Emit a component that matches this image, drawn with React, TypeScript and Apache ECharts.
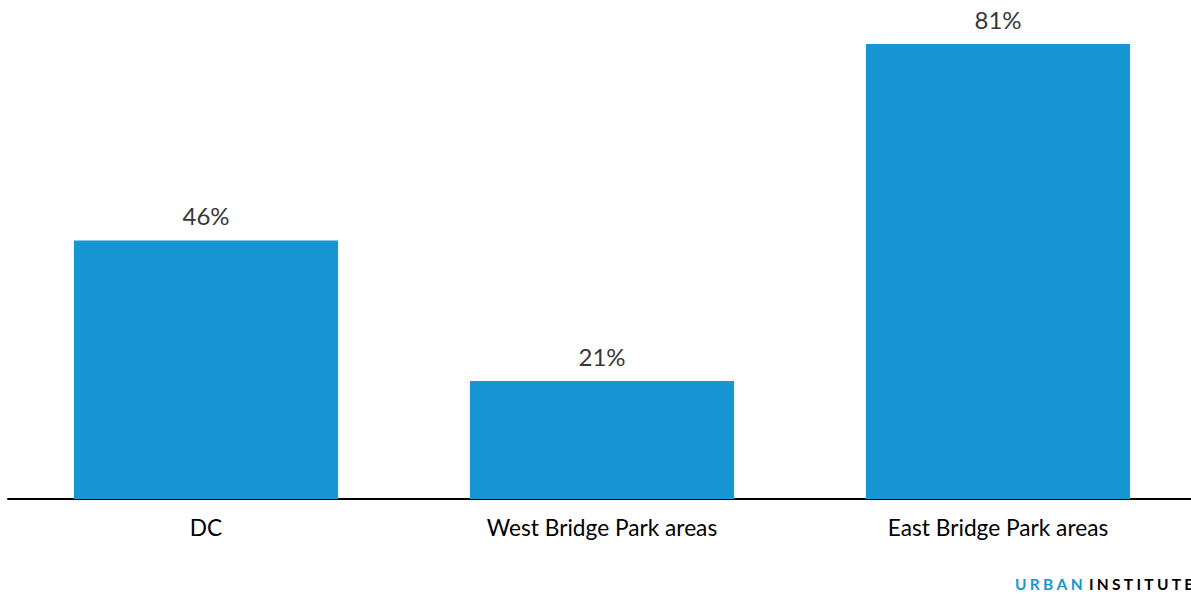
import React, { useEffect, useRef } from "react";
import * as echarts from "echarts";

const categories = ["DC", "West Bridge Park areas", "East Bridge Park areas"];
const values = [46, 21, 81];
const yMax = 81;
const logoParts = [
  { text: "URBAN", color: "#1696d2" },
  { text: "INSTITUTE", color: "#000000" },
];

function buildLogo(x0: number, y0: number) {
  const ctx = document.createElement("canvas").getContext("2d")!;
  ctx.font = "bold 15.5px Lato";
  const spacing = 3.3;
  const els: any[] = [];
  let x = x0;
  logoParts.forEach((p, pi) => {
    for (const ch of p.text) {
      els.push({
        type: "text",
        x,
        y: y0,
        style: {
          text: ch,
          fill: p.color,
          font: "bold 15.5px Lato",
          textVerticalAlign: "middle",
        },
      });
      x += ctx.measureText(ch).width + spacing;
    }
    if (pi === 0) x += 3;
  });
  return els;
}

export default function App() {
  const ref = useRef<HTMLDivElement>(null);
  useEffect(() => {
    if (!ref.current) return;
    const chart = echarts.init(ref.current, null, { renderer: "svg" });
    chart.setOption({
      animation: false,
      grid: { left: 8, right: 0, top: 44, bottom: 95, containLabel: false },
      xAxis: {
        type: "category",
        data: categories,
        axisLine: { show: true, lineStyle: { color: "#000", width: 2 } },
        axisTick: { show: false },
        axisLabel: {
          color: "#000",
          fontFamily: "Lato",
          fontSize: 22.7,
          margin: 17,
        },
      },
      yAxis: {
        type: "value",
        min: 0,
        max: yMax,
        show: false,
        splitLine: { show: false },
      },
      series: [
        {
          type: "bar",
          data: values,
          barCategoryGap: "33.3%",
          itemStyle: { color: "#1696d2" },
          label: {
            show: true,
            position: "top",
            distance: 13,
            formatter: "{c}%",
            color: "#383838",
            fontFamily: "Lato",
            fontSize: 24,
          },
        },
      ],
      graphic: buildLogo(1015, 584),
    });
    return () => chart.dispose();
  }, []);
  return (
    <div style={{ position: "absolute", left: 0, top: 0, width: 1191, height: 594, overflow: "hidden" }}>
      <div ref={ref} style={{ width: 1196, height: 594 }} />
    </div>
  );
}
